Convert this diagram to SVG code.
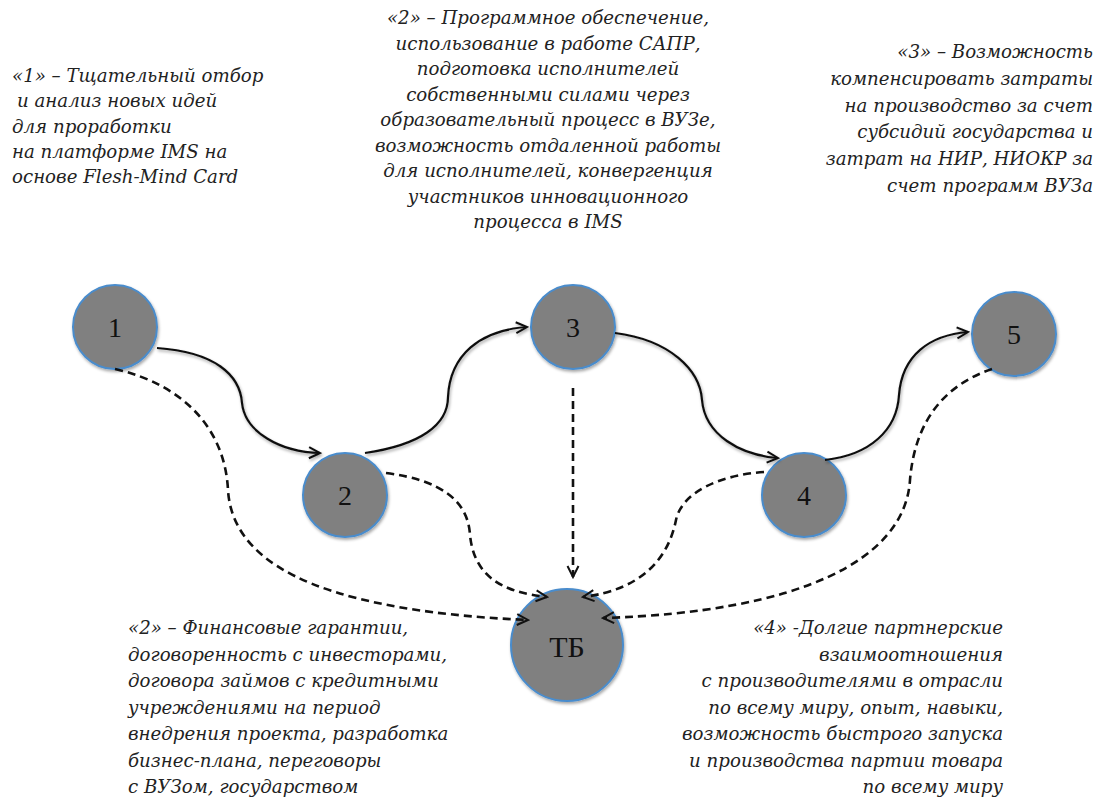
<svg xmlns="http://www.w3.org/2000/svg" width="1100" height="798" viewBox="0 0 1100 798">
<style>
.txt{font-family:"DejaVu Serif","Liberation Serif",serif;font-style:italic;font-size:18.2px;fill:#222}
.num{font-family:"Liberation Serif","Times New Roman",serif;font-size:28px;fill:#111;text-anchor:middle}
.node{fill:#808080;stroke:#4a8ccc;stroke-width:2}
.solid{fill:none;stroke:#111;stroke-width:2.2}
.dash{fill:none;stroke:#111;stroke-width:2.6;stroke-dasharray:8 5}
</style>
<defs>
<filter id="sh" x="-20%" y="-20%" width="140%" height="150%">
<feDropShadow dx="1" dy="2" stdDeviation="1.5" flood-color="#000" flood-opacity="0.35"/>
</filter>
<marker id="arr" viewBox="0 0 14 14" refX="12" refY="7" markerWidth="14" markerHeight="14" markerUnits="userSpaceOnUse" orient="auto">
<path d="M1,1.5 L12,7 L1,12.5" fill="none" stroke="#111" stroke-width="2" stroke-dasharray="none"/>
</marker>
</defs>
<rect width="1100" height="798" fill="#fff"/>

<g id="node1"><circle class="node" filter="url(#sh)" cx="115" cy="327" r="42"/><text class="num" x="115" y="337">1</text></g>
<g id="node2"><circle class="node" filter="url(#sh)" cx="345" cy="495" r="42"/><text class="num" x="345" y="505">2</text></g>
<g id="node3"><circle class="node" filter="url(#sh)" cx="573" cy="327" r="42"/><text class="num" x="573" y="337">3</text></g>
<g id="node4"><circle class="node" filter="url(#sh)" cx="804" cy="495" r="42"/><text class="num" x="804" y="505">4</text></g>
<g id="node5"><circle class="node" filter="url(#sh)" cx="1014" cy="334" r="42"/><text class="num" x="1014" y="344">5</text></g>
<g id="nodeTB"><circle class="node" filter="url(#sh)" cx="567" cy="645" r="56"/><text class="num" style="font-size:30px" x="567" y="657">ТБ</text></g>

<g id="connectors">
<path class="solid" filter="url(#sh)" marker-end="url(#arr)" d="M157,348 C215,352 240,375 242,403 C245,432 280,452 320,453"/>
<path class="solid" filter="url(#sh)" marker-end="url(#arr)" d="M365,453 C420,445 448,425 448,397 C450,355 480,330 527,327"/>
<path class="solid" filter="url(#sh)" marker-end="url(#arr)" d="M615,333 C670,340 700,370 702,400 C705,435 740,455 778,458"/>
<path class="solid" filter="url(#sh)" marker-end="url(#arr)" d="M825,460 C870,455 897,430 899,395 C902,355 930,335 968,332"/>
<path class="dash" marker-end="url(#arr)" d="M115,369 C185,385 225,430 228,490 C232,555 300,610 528,620"/>
<path class="dash" marker-end="url(#arr)" d="M386,473 C440,480 468,500 470,535 C474,575 500,592 547,597"/>
<path class="dash" marker-end="url(#arr)" d="M573,388 L573,577"/>
<path class="dash" marker-end="url(#arr)" d="M764,472 C720,475 682,492 676,520 C668,560 640,590 583,597"/>
<path class="dash" marker-end="url(#arr)" d="M992,369 C945,385 915,420 910,480 C905,560 800,612 603,618"/>
</g>

<g id="label1" class="txt">
<text x="12" y="82">«1» – Тщательный отбор</text>
<text x="17" y="107">и анализ новых идей</text>
<text x="12" y="133">для проработки</text>
<text x="12" y="158">на платформе IMS на</text>
<text x="12" y="183">основе Flesh-Mind Card</text>
</g>

<g id="label2" class="txt" text-anchor="middle">
<text x="548" y="24">«2» – Программное обеспечение,</text>
<text x="548" y="49.5">использование в работе САПР,</text>
<text x="548" y="75">подготовка исполнителей</text>
<text x="548" y="100.5">собственными силами через</text>
<text x="548" y="126">образовательный процесс в ВУЗе,</text>
<text x="548" y="151.5">возможность отдаленной работы</text>
<text x="548" y="177">для исполнителей, конвергенция</text>
<text x="548" y="202.5">участников инновационного</text>
<text x="548" y="228">процесса в IMS</text>
</g>

<g id="label3" class="txt" text-anchor="end">
<text x="1093" y="58">«3» – Возможность</text>
<text x="1093" y="85">компенсировать затраты</text>
<text x="1093" y="112">на производство за счет</text>
<text x="1093" y="138">субсидий государства и</text>
<text x="1093" y="165">затрат на НИР, НИОКР за</text>
<text x="1093" y="192">счет программ ВУЗа</text>
</g>

<g id="label4" class="txt">
<text x="128" y="634">«2» – Финансовые гарантии,</text>
<text x="128" y="661">договоренность с инвесторами,</text>
<text x="128" y="687">договора займов с кредитными</text>
<text x="128" y="714">учреждениями на период</text>
<text x="128" y="740">внедрения проекта, разработка</text>
<text x="128" y="767">бизнес-плана, переговоры</text>
<text x="128" y="793">с ВУЗом, государством</text>
</g>

<g id="label5" class="txt" text-anchor="end">
<text x="1003" y="634">«4» -Долгие партнерские</text>
<text x="1003" y="661">взаимоотношения</text>
<text x="1003" y="687">с производителями в отрасли</text>
<text x="1003" y="714">по всему миру, опыт, навыки,</text>
<text x="1003" y="740">возможность быстрого запуска</text>
<text x="1003" y="767">и производства партии товара</text>
<text x="1003" y="793">по всему миру</text>
</g>
</svg>
